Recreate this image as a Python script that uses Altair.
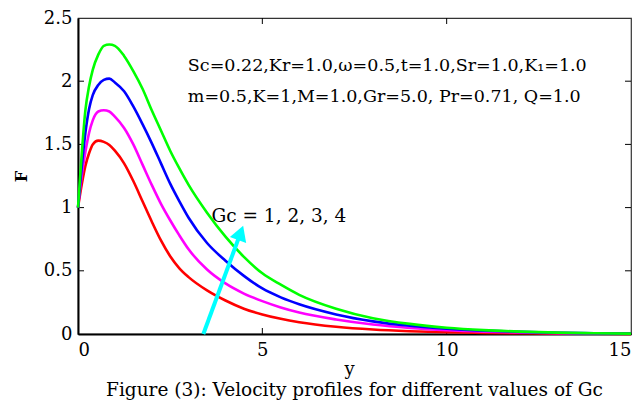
import altair as alt
import pandas as pd

# ---- data ----
x_vals = [0, 0.1, 0.2, 0.3, 0.4, 0.55, 0.7, 0.85, 1.0, 1.25, 1.5, 1.75, 2.0, 2.25, 2.5, 2.75,
          3.0, 3.5, 4.0, 4.5, 5.0, 5.5, 6.0, 7.0, 8.0, 9.0, 10.0, 11.0, 12.0, 13.0, 14.0, 15.0]
gc1 = [1.0, 1.18, 1.33, 1.43, 1.50, 1.53, 1.52, 1.495, 1.45, 1.35, 1.21, 1.05, 0.89, 0.74, 0.615, 0.52,
       0.45, 0.345, 0.265, 0.20, 0.155, 0.12, 0.093, 0.057, 0.035, 0.022, 0.014, 0.009, 0.006, 0.004, 0.002, 0.001]
gc2 = [1.0, 1.25, 1.44, 1.59, 1.69, 1.76, 1.77, 1.76, 1.72, 1.63, 1.50, 1.34, 1.18, 1.03, 0.90, 0.78,
       0.67, 0.51, 0.40, 0.32, 0.26, 0.21, 0.17, 0.115, 0.075, 0.048, 0.030, 0.019, 0.012, 0.007, 0.004, 0.002]
gc3 = [1.0, 1.32, 1.59, 1.78, 1.89, 1.97, 2.01, 2.02, 1.99, 1.92, 1.80, 1.66, 1.51, 1.35, 1.19, 1.05,
       0.92, 0.72, 0.58, 0.46, 0.36, 0.29, 0.235, 0.155, 0.10, 0.065, 0.042, 0.027, 0.017, 0.010, 0.006, 0.003]
gc4 = [1.0, 1.42, 1.77, 1.96, 2.09, 2.21, 2.28, 2.29, 2.28, 2.20, 2.08, 1.94, 1.77, 1.61, 1.45, 1.31,
       1.18, 0.96, 0.77, 0.61, 0.48, 0.39, 0.31, 0.20, 0.125, 0.08, 0.05, 0.031, 0.019, 0.011, 0.006, 0.003]
series_names = ["Gc = 1", "Gc = 2", "Gc = 3", "Gc = 4"]
series_colors = ["#ff0000", "#ff00ff", "#0000ff", "#00ff00"]

x_ticks = [0, 5, 10, 15]
y_ticks = [0, 0.5, 1, 1.5, 2, 2.5]
inner_x_ticks = [5, 10]
inner_y_ticks = [0.5, 1, 1.5, 2]

note_lines = ["Sc=0.22,Kr=1.0,\u03c9=0.5,t=1.0,Sr=1.0,K\u2081=1.0",
              "m=0.5,K=1,M=1.0,Gr=5.0, Pr=0.71, Q=1.0"]
note_x = [2.98, 2.98]
note_y = [2.12, 1.875]
gc_label = "Gc = 1, 2, 3, 4"
gc_label_pos = [3.62, 0.93]
arrow_start = [3.40, 0.0]
arrow_head = [4.41, 0.80]
caption = "Figure (3): Velocity profiles for different values of Gc"

# ---- build tables ----
rows = []
for name, vals in zip(series_names, [gc1, gc2, gc3, gc4]):
    for xv, fv in zip(x_vals, vals):
        rows.append({"y": xv, "F": fv, "series": name})
df = pd.DataFrame(rows)

W, H = 553, 316
FONT = "DejaVu Serif"

xscale = alt.Scale(domain=[0, 15], nice=False, zero=False)
yscale = alt.Scale(domain=[0, 2.5], nice=False)

lines = alt.Chart(df).mark_line(strokeWidth=2.6, interpolate="monotone").encode(
    x=alt.X("y:Q", scale=xscale,
            axis=alt.Axis(values=x_ticks, title="y", ticks=False, grid=False,
                          domainColor="black", domainWidth=2, labelPadding=7,
                          titlePadding=1, titleX=271)),
    y=alt.Y("F:Q", scale=yscale,
            axis=alt.Axis(values=y_ticks, title="F", ticks=False, grid=False,
                          labelExpr="datum.value + ''",
                          domainColor="black", domainWidth=2, labelPadding=6,
                          titleFontWeight="bold", titleFontSize=16, titlePadding=14)),
    color=alt.Color("series:N", scale=alt.Scale(domain=series_names, range=series_colors),
                    legend=None),
    order=alt.Order("series:N"),
)

notes_df = pd.DataFrame({"x": note_x, "F": note_y, "t": note_lines})
notes = alt.Chart(notes_df).mark_text(align="left", baseline="middle", font=FONT,
                                      fontSize=17.5, color="black").encode(
    x=alt.X("x:Q", scale=xscale), y=alt.Y("F:Q", scale=yscale), text="t:N")

gc_df = pd.DataFrame({"x": [gc_label_pos[0]], "F": [gc_label_pos[1]], "t": [gc_label]})
gc_text = alt.Chart(gc_df).mark_text(align="left", baseline="middle", font=FONT,
                                     fontSize=18.5, color="black").encode(
    x=alt.X("x:Q", scale=xscale), y=alt.Y("F:Q", scale=yscale), text="t:N")

arrow_df = pd.DataFrame({"x": [arrow_start[0]], "F": [arrow_start[1]],
                         "x2": [arrow_head[0]], "F2": [arrow_head[1]]})
shaft = alt.Chart(arrow_df).mark_rule(color="#00ffff", strokeWidth=4).encode(
    x=alt.X("x:Q", scale=xscale), y=alt.Y("F:Q", scale=yscale), x2="x2:Q", y2="F2:Q")

head_df = pd.DataFrame({"x": [arrow_head[0]], "F": [arrow_head[1]]})
head = alt.Chart(head_df).mark_point(shape="triangle-up", filled=True, size=300,
                                     angle=20, color="#00ffff", opacity=1).encode(
    x=alt.X("x:Q", scale=xscale), y=alt.Y("F:Q", scale=yscale))

ty_df = pd.DataFrame({"F": inner_y_ticks})
tx_df = pd.DataFrame({"x": inner_x_ticks})
tick_left = alt.Chart(ty_df).mark_rule(color="black", strokeWidth=1).encode(
    y=alt.Y("F:Q", scale=yscale), x=alt.value(0), x2=alt.value(6))
tick_right = alt.Chart(ty_df).mark_rule(color="black", strokeWidth=1).encode(
    y=alt.Y("F:Q", scale=yscale), x=alt.value(W - 6), x2=alt.value(W))
tick_bottom = alt.Chart(tx_df).mark_rule(color="black", strokeWidth=1).encode(
    x=alt.X("x:Q", scale=xscale), y=alt.value(H), y2=alt.value(H - 6))
tick_top = alt.Chart(tx_df).mark_rule(color="black", strokeWidth=1).encode(
    x=alt.X("x:Q", scale=xscale), y=alt.value(0), y2=alt.value(6))

chart = alt.layer(
    tick_left, tick_right, tick_bottom, tick_top, lines, notes, gc_text, shaft, head
).properties(
    width=W, height=H,
    autosize=alt.AutoSizeParams(type="none"),
    padding={"left": 70, "top": 10, "right": 3, "bottom": 67},
    title=alt.TitleParams(caption, orient="bottom", anchor="middle", font=FONT,
                          fontSize=18.5, fontWeight="normal", color="black", offset=3),
).configure_view(
    stroke="#333333", strokeWidth=1.2
).configure_axis(
    labelFont=FONT, labelFontSize=18, labelColor="black",
    titleFont=FONT, titleFontSize=18, titleColor="black", titleFontWeight="normal",
)

chart.save("out.html", embed_options={"renderer": "svg", "actions": False})
